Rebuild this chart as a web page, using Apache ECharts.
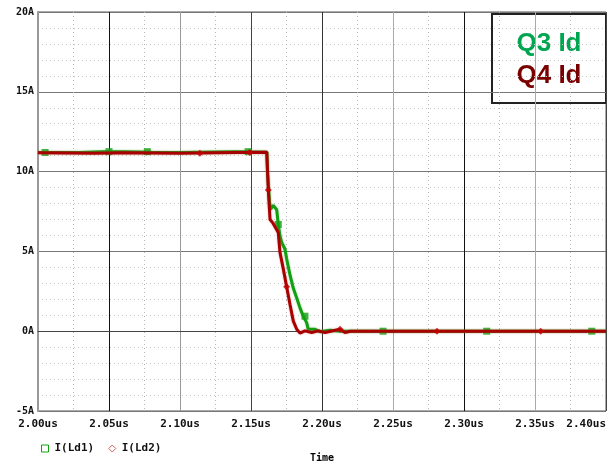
<!DOCTYPE html>
<html>
<head>
<meta charset="utf-8">
<script src="https://cdn.jsdelivr.net/npm/echarts@6/dist/echarts.min.js"></script>
<style>
  html, body { margin: 0; padding: 0; background: #fff; }
  #chart { width: 609px; height: 468px; }
</style>
</head>
<body>
<div id="chart"></div>
<script>
// Drain current waveforms, time in microseconds, current in amperes
const ld1Trace = [
  [2.000, 11.20], [2.030, 11.20], [2.045, 11.25], [2.060, 11.25], [2.080, 11.22],
  [2.100, 11.20], [2.140, 11.25], [2.1612, 11.22], [2.1616, 9.98], [2.1630, 8.13],
  [2.1637, 7.64], [2.1657, 7.88], [2.1681, 7.62], [2.1692, 6.69], [2.1704, 5.97],
  [2.1716, 5.56], [2.1739, 5.15], [2.1751, 4.54], [2.1775, 3.51], [2.1798, 2.69],
  [2.1822, 2.08], [2.1845, 1.46], [2.1868, 0.94], [2.1892, 0.54], [2.1903, 0.12],
  [2.1915, 0.02], [2.1951, 0.12], [2.1986, -0.03], [2.2056, 0.06], [2.2130, 0.00],
  [2.400, 0.00]
];
const ld2Trace = [
  [2.000, 11.18], [2.040, 11.15], [2.060, 11.18], [2.100, 11.15], [2.140, 11.20],
  [2.1611, 11.21], [2.1622, 8.85], [2.1634, 7.00], [2.1655, 6.77], [2.1669, 6.69],
  [2.1692, 6.18], [2.1704, 4.94], [2.1727, 3.92], [2.1751, 2.79], [2.1775, 1.66],
  [2.1798, 0.63], [2.1822, 0.12], [2.1845, -0.12], [2.1880, 0.02], [2.1927, -0.08],
  [2.1974, 0.02], [2.2021, -0.08], [2.2127, 0.12], [2.2162, -0.08], [2.2200, 0.00],
  [2.400, 0.00]
];
// Plot-symbol positions along each trace
const ld1Markers = [
  [2.005, 11.20], [2.050, 11.25], [2.077, 11.25], [2.148, 11.25], [2.1692, 6.69],
  [2.1880, 0.94], [2.243, 0.00], [2.316, 0.00], [2.390, 0.00]
];
const ld2Markers = [
  [2.114, 11.15], [2.149, 11.20], [2.1622, 8.85], [2.1751, 2.79], [2.2127, 0.12],
  [2.281, 0.00], [2.354, 0.00]
];
const xTicks = [2.00, 2.05, 2.10, 2.15, 2.20, 2.25, 2.30, 2.35, 2.40];
const yTicks = [-5, 0, 5, 10, 15, 20];
const legendNames = ['I(Ld1)', 'I(Ld2)'];
const noteLines = ['Q3 Id', 'Q4 Id'];

const GREEN = '#12a012';
const RED = '#a80000';
const monoFont = '"DejaVu Sans Mono", "Liberation Mono", monospace';

const chart = echarts.init(document.getElementById('chart'), null, { renderer: 'canvas' });

chart.setOption({
  animation: false,
  backgroundColor: '#fff',
  grid: { left: 38, right: 3, top: 12, bottom: 50, show: true, borderColor: '#555', borderWidth: 1 },
  xAxis: {
    type: 'value',
    min: xTicks[0],
    max: xTicks[xTicks.length - 1],
    interval: 0.05,
    name: 'Time',
    nameLocation: 'middle',
    nameGap: 42,
    nameTextStyle: { fontFamily: monoFont, fontWeight: 'bold', fontSize: 10, color: '#000' },
    axisLine: { lineStyle: { color: '#444', width: 1 } },
    axisTick: { show: false },
    axisLabel: {
      fontFamily: monoFont, fontWeight: 'bold', fontSize: 11, color: '#111', margin: 8,
      alignMaxLabel: 'right',
      formatter: v => v.toFixed(2) + 'us'
    },
    splitLine: {
      show: true,
      lineStyle: { width: 1, color: ['#999', '#111', '#999', '#444', '#333', '#aaa', '#111', '#aaa', '#444'] }
    },
    minorTick: { show: false, splitNumber: 2 },
    minorSplitLine: { show: true, lineStyle: { color: '#b8b8b8', width: 1, type: [1, 3] } }
  },
  yAxis: {
    type: 'value',
    min: yTicks[0],
    max: yTicks[yTicks.length - 1],
    interval: 5,
    axisLine: { show: true, lineStyle: { color: '#999', width: 2 } },
    axisTick: { show: false },
    axisLabel: {
      fontFamily: monoFont, fontWeight: 'bold', fontSize: 10, color: '#111', margin: 4,
      formatter: v => v + 'A'
    },
    splitLine: { show: true, lineStyle: { color: '#777', width: 1 } },
    minorTick: { show: false, splitNumber: 5 },
    minorSplitLine: { show: true, lineStyle: { color: '#c8c8c8', width: 1, type: [1, 3] } }
  },
  legend: {
    left: 36,
    top: 438,
    itemWidth: 7,
    itemHeight: 7,
    itemGap: 14,
    textStyle: { fontFamily: monoFont, fontWeight: 'bold', fontSize: 11, color: '#111', padding: [0, 0, 0, 1] },
    data: [
      { name: legendNames[0], icon: 'rect', itemStyle: { color: 'transparent', borderColor: GREEN, borderWidth: 1 } },
      { name: legendNames[1], icon: 'diamond', itemStyle: { color: 'transparent', borderColor: '#e06060', borderWidth: 1 } }
    ]
  },
  series: [
    {
      name: legendNames[0], type: 'line', data: ld1Trace, symbol: 'none',
      lineStyle: { color: GREEN, width: 3, shadowColor: 'rgba(40,170,40,0.45)', shadowBlur: 2 },
      itemStyle: { color: GREEN }, z: 3
    },
    {
      name: legendNames[0], type: 'scatter', data: ld1Markers, symbol: 'rect', symbolSize: 7,
      itemStyle: { color: GREEN }, z: 4
    },
    {
      name: legendNames[1], type: 'line', data: ld2Trace, symbol: 'none',
      lineStyle: { color: RED, width: 3, shadowColor: 'rgba(200,60,60,0.45)', shadowBlur: 2 },
      itemStyle: { color: RED }, z: 5
    },
    {
      name: legendNames[1], type: 'scatter', data: ld2Markers, symbol: 'diamond', symbolSize: 7,
      itemStyle: { color: '#c00000' }, z: 6
    }
  ],
  graphic: [
    {
      type: 'group', left: 491, top: 13,
      children: [
        { type: 'rect', shape: { x: 0, y: 0, width: 114, height: 89 },
          style: { fill: '#fff', stroke: '#222', lineWidth: 2 } },
        { type: 'text', x: 57, y: 30, style: { text: noteLines[0], fill: '#00a550',
          font: 'bold 26px "Liberation Sans", Arial, sans-serif', align: 'center', verticalAlign: 'middle' } },
        { type: 'text', x: 57, y: 62, style: { text: noteLines[1], fill: '#7a0000',
          font: 'bold 26px "Liberation Sans", Arial, sans-serif', align: 'center', verticalAlign: 'middle' } }
      ]
    }
  ]
});
</script>
</body>
</html>
